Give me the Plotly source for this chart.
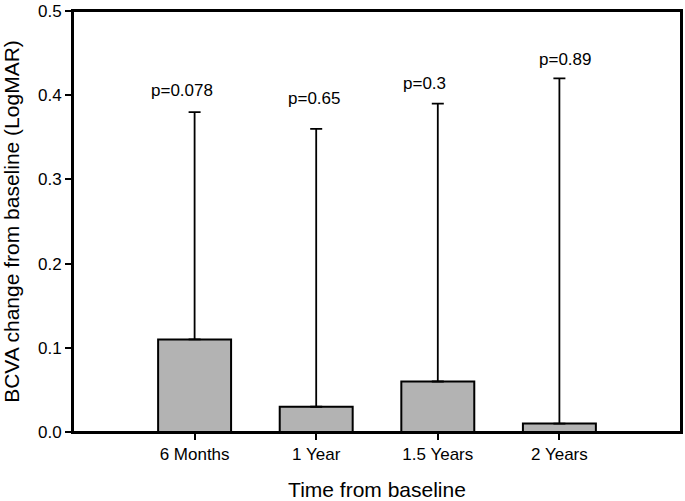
import plotly.graph_objects as go

categories = ["6 Months", "1 Year", "1.5 Years", "2 Years"]
means = [0.11, 0.03, 0.06, 0.01]
upper = [0.38, 0.36, 0.39, 0.42]
p_labels = ["p=0.078", "p=0.65", "p=0.3", "p=0.89"]
p_label_x = [-0.107, -0.02, -0.108, 0.05]
p_label_y = [0.406, 0.3955, 0.414, 0.4425]

err = [u - m for u, m in zip(upper, means)]
xs = list(range(len(categories)))

FONT = "Liberation Sans, Arial"
LW = 2

fig = go.Figure()
fig.add_trace(go.Bar(
    x=xs, y=means, width=0.6,
    marker=dict(color="#b3b3b3", line=dict(color="black", width=LW)),
    error_y=dict(type="data", symmetric=False, array=err, arrayminus=[0]*4,
                 color="black", thickness=1.8, width=6),
    showlegend=False,
))

for i, (t, dx, y) in enumerate(zip(p_labels, p_label_x, p_label_y)):
    fig.add_annotation(x=xs[i] + dx, y=y, text=t, showarrow=False,
                       font=dict(size=17, color="black", family=FONT),
                       xanchor="center", yanchor="middle")

fig.add_shape(type="rect", xref="paper", yref="paper", x0=0, y0=0, x1=1, y1=1,
              line=dict(color="black", width=LW), layer="above")

fig.update_layout(
    width=685, height=501,
    margin=dict(l=73, r=2, t=8, b=67),
    paper_bgcolor="white", plot_bgcolor="white",
    font=dict(family=FONT, color="black", size=17),
    xaxis=dict(range=[-1, 4], tickmode="array", tickvals=xs, ticktext=categories,
               showline=True, linecolor="black", linewidth=LW, mirror=True,
               ticks="outside", ticklen=6, tickwidth=LW, tickcolor="black",
               showgrid=False, zeroline=False,
               title=dict(text="Time from baseline", font=dict(size=21), standoff=20),
               tickfont=dict(size=17)),
    yaxis=dict(range=[0, 0.5], tickvals=[0, 0.1, 0.2, 0.3, 0.4, 0.5],
               ticktext=["0.0", "0.1", "0.2", "0.3", "0.4", "0.5"],
               showline=True, linecolor="black", linewidth=LW, mirror=True,
               ticks="outside", ticklen=6, tickwidth=LW, tickcolor="black",
               showgrid=False, zeroline=False, ticklabeloverflow="allow",
               title=dict(text="BCVA change from baseline (LogMAR)", font=dict(size=21), standoff=15),
               tickfont=dict(size=17)),
)

fig.write_html("out.html")
